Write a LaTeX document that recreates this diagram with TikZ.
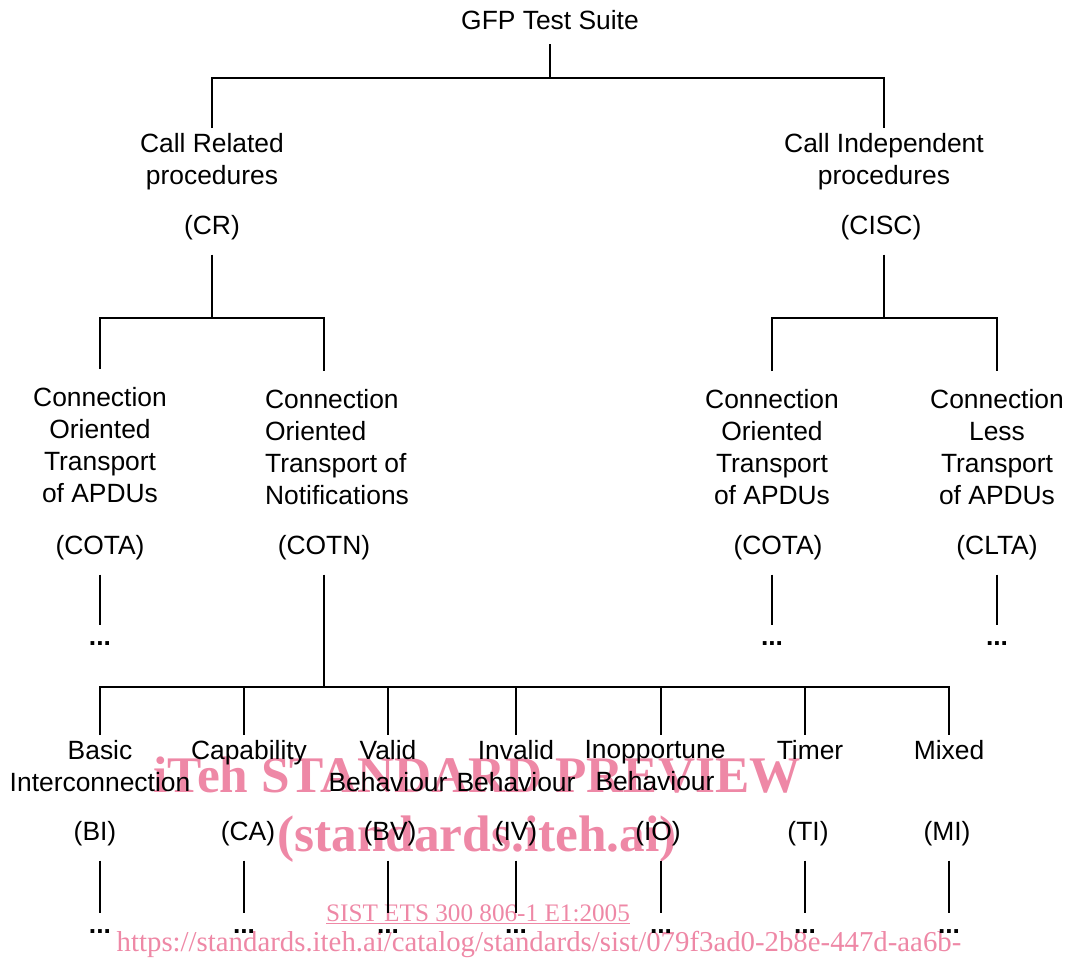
\documentclass[tikz,border=0pt]{standalone}
\usepackage{fontspec}
\setmainfont{Liberation Sans}
\newfontfamily\wmfont{Liberation Serif}
\definecolor{wmpink}{RGB}{238,136,166}

\tikzset{
  lbl/.style={font=\fontsize{19.8}{24}\selectfont, align=center, inner sep=0pt, outer sep=4pt, anchor=north},
  grp/.style={lbl, outer sep=14pt},
  abbr/.style={font=\fontsize{19.8}{24}\selectfont, inner sep=0pt, outer sep=11pt, anchor=base},
  more/.style={font=\fontsize{19.8}{24}\selectfont\bfseries, inner sep=0pt, outer sep=12pt, anchor=base},
  tree/.style={line width=1.5pt},
  wmark/.style={text=wmpink, inner sep=0pt, anchor=base}
}

\begin{document}
\begin{tikzpicture}[x=0.75pt, y=-0.75pt]
    \useasboundingbox (0,0) rectangle (1073,958);

    % Watermark
    \node[wmark, font=\wmfont\bfseries\fontsize{38.5}{40}\selectfont] (wmtitle) at (477,792) {iTeh STANDARD PREVIEW};
    \node[wmark, font=\wmfont\bfseries\fontsize{38.5}{40}\selectfont] (wmsite) at (477,851) {(standards.iteh.ai)};
    \node[wmark, font=\wmfont\fontsize{18.9}{20}\selectfont] (wmref) at (478,921) {\underline{SIST ETS 300 806-1 E1:2005}};
    \node[wmark, font=\wmfont\fontsize{21.6}{22}\selectfont] (wmurl) at (539,951) {https://standards.iteh.ai/catalog/standards/sist/079f3ad0-2b8e-447d-aa6b-};

    % Root
    \node[abbr] (gfp) at (550,29.5) {GFP Test Suite};
    \coordinate (topbar) at (550,78);

    % Call related / call independent
    \node[lbl] (cr) at (212,128) {Call Related\\procedures};
    \node[lbl] (cisc) at (884,128) {Call Independent\\procedures};
    \node[abbr] (crab) at (212,234.5) {(CR)};
    \node[abbr] (ciscab) at (881,234.5) {(CISC)};

    \draw[tree] (gfp.south) -- (topbar);
    \draw[tree] (cr.north) |- (topbar) -| (cisc.north);

    % Transport groups
    \coordinate (crbar) at (212,318);
    \coordinate (ciscbar) at (884,318);
    \node[grp] (cotal) at (100,369) {Connection\\Oriented\\Transport\\of APDUs};
    \node[grp, align=left] (cotn) at (337,371) {Connection\\Oriented\\Transport of\\Notifications};
    \node[grp] (cotar) at (772,371) {Connection\\Oriented\\Transport\\of APDUs};
    \node[grp] (clta) at (997,371) {Connection\\Less\\Transport\\of APDUs};

    \node[abbr] (cotalab) at (100,554.5) {(COTA)};
    \node[abbr] (cotnab) at (324,554.5) {(COTN)};
    \node[abbr] (cotarab) at (778,554.5) {(COTA)};
    \node[abbr] (cltaab) at (997,554.5) {(CLTA)};

    \draw[tree] (crab.south) -- (crbar);
    \draw[tree] (cotal.north) |- (crbar) -| (cotnab.north |- cotn.north);
    \draw[tree] (ciscab.south -| ciscbar) -- (ciscbar);
    \draw[tree] (cotar.north) |- (ciscbar) -| (clta.north);

    % Continuation dots
    \node[more] (cotaldots) at (100,645) {...};
    \node[more] (cotardots) at (772,645) {...};
    \node[more] (cltadots) at (997,645) {...};
    \draw[tree] (cotalab.south) -- (cotaldots.north);
    \draw[tree] (cotarab.south -| cotardots.north) -- (cotardots.north);
    \draw[tree] (cltaab.south) -- (cltadots.north);

    % Notification test groups
    \coordinate (lowbar) at (324,687);
    \node[lbl] (bi) at (100,735) {Basic\\Interconnection};
    \node[lbl] (ca) at (249,735) {Capability};
    \node[lbl] (bv) at (388,735) {Valid\\Behaviour};
    \node[lbl] (iv) at (516,735) {Invalid\\Behaviour};
    \node[lbl] (io) at (655,735) {Inopportune\\Behaviour};
    \node[lbl] (ti) at (810,735) {Timer};
    \node[lbl] (mi) at (949,735) {Mixed};

    \node[abbr] (biab) at (95,840.5) {(BI)};
    \node[abbr] (caab) at (248,840.5) {(CA)};
    \node[abbr] (bvab) at (390,840.5) {(BV)};
    \node[abbr] (ivab) at (516,840.5) {(IV)};
    \node[abbr] (ioab) at (658,840.5) {(IO)};
    \node[abbr] (tiab) at (808,840.5) {(TI)};
    \node[abbr] (miab) at (947,840.5) {(MI)};

    \node[more] (bidots) at (100,933) {...};
    \node[more] (cadots) at (244,933) {...};
    \node[more] (bvdots) at (388,933) {...};
    \node[more] (ivdots) at (516,933) {...};
    \node[more] (iodots) at (661,933) {...};
    \node[more] (tidots) at (805,933) {...};
    \node[more] (midots) at (949,933) {...};

    \draw[tree] (cotnab.south) -- (lowbar);
    \draw[tree] (bi.north) |- (lowbar) -| (mi.north);
    \draw[tree] (cadots |- lowbar) -- (cadots |- ca.north);
    \draw[tree] (bvdots |- lowbar) -- (bvdots |- bv.north);
    \draw[tree] (ivdots |- lowbar) -- (ivdots |- iv.north);
    \draw[tree] (iodots |- lowbar) -- (iodots |- io.north);
    \draw[tree] (tidots |- lowbar) -- (tidots |- ti.north);

    % Stubs to the dots
    \draw[tree] (biab.south -| bidots.north) -- (bidots.north);
    \draw[tree] (caab.south -| cadots.north) -- (cadots.north);
    \draw[tree] (bvab.south -| bvdots.north) -- (bvdots.north);
    \draw[tree] (ivab.south -| ivdots.north) -- (ivdots.north);
    \draw[tree] (ioab.south -| iodots.north) -- (iodots.north);
    \draw[tree] (tiab.south -| tidots.north) -- (tidots.north);
    \draw[tree] (miab.south -| midots.north) -- (midots.north);
\end{tikzpicture}
\end{document}
